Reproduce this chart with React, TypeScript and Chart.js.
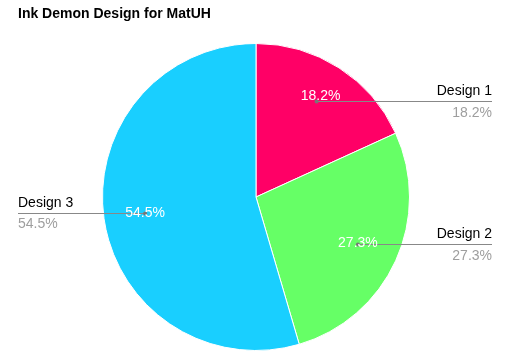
import React, { useEffect, useRef } from "react";
import { Chart, registerables } from "chart.js";

Chart.register(...registerables);

const titleText = "Ink Demon Design for MatUH";
const labels = ["Design 1", "Design 2", "Design 3"];
const values = [2, 3, 6];
const colors = ["#FF0066", "#66FF66", "#19CFFF"];

const FONT = "Arial, 'Liberation Sans', sans-serif";

const labelPlugin = {
  id: "pieLabels",
  afterDraw(chart: any) {
    const ctx = chart.ctx;
    const meta = chart.getDatasetMeta(0);
    const total = values.reduce((a, b) => a + b, 0);
    ctx.save();
    // title
    ctx.fillStyle = "#000";
    ctx.font = `bold 14px ${FONT}`;
    ctx.textAlign = "left";
    ctx.textBaseline = "alphabetic";
    ctx.fillText(titleText, 18, 18);

    meta.data.forEach((arc: any, i: number) => {
      const { x, y, startAngle, endAngle, outerRadius } = arc.getProps(
        ["x", "y", "startAngle", "endAngle", "outerRadius"],
        true
      );
      const mid = (startAngle + endAngle) / 2;
      const r = outerRadius * 0.73;
      const px = x + Math.cos(mid) * r;
      const py = y + Math.sin(mid) * r - (i === 0 ? 2 : 0);
      const ly = Math.round(py) + 0.5;
      const pct = ((values[i] / total) * 100).toFixed(1) + "%";
      const right = Math.cos(mid) >= 0;
      const endX = right ? chart.width - 23 : 18;

      // leader line
      ctx.strokeStyle = "#888";
      ctx.lineWidth = 1;
      ctx.beginPath();
      ctx.moveTo(px, ly);
      ctx.lineTo(endX, ly);
      ctx.stroke();
      ctx.fillStyle = "#777";
      ctx.beginPath();
      ctx.arc(px, ly, 2, 0, Math.PI * 2);
      ctx.fill();

      // inside percentage
      ctx.fillStyle = "#fff";
      ctx.font = `14px ${FONT}`;
      ctx.textAlign = "center";
      ctx.textBaseline = "middle";
      ctx.fillText(pct, px + (i === 0 ? 4 : 0), py + (i === 0 ? -5 : 0));

      // outside labels
      ctx.textAlign = right ? "right" : "left";
      ctx.textBaseline = "alphabetic";
      ctx.fillStyle = "#000";
      ctx.fillText(labels[i], endX, ly - 7);
      ctx.fillStyle = "#9e9e9e";
      ctx.fillText(pct, endX, ly + (right ? 15.5 : 14));
    });
    ctx.restore();
  },
};

export default function App() {
  const ref = useRef<HTMLCanvasElement>(null);
  useEffect(() => {
    document.body.style.margin = "0";
    const chart = new Chart(ref.current!, {
      type: "pie",
      data: {
        labels,
        datasets: [
          {
            data: values,
            backgroundColor: colors,
            borderColor: "#fff",
            borderWidth: 1,
          },
        ],
      },
      options: {
        animation: false,
        responsive: false,
        layout: { padding: { top: 43, bottom: 10, left: 102, right: 105 } },
        plugins: {
          legend: { display: false },
          tooltip: { enabled: false },
          title: { display: false },
        },
      },
      plugins: [labelPlugin],
    });
    return () => chart.destroy();
  }, []);
  return <canvas ref={ref} width={515} height={361} style={{ display: "block" }} />;
}
